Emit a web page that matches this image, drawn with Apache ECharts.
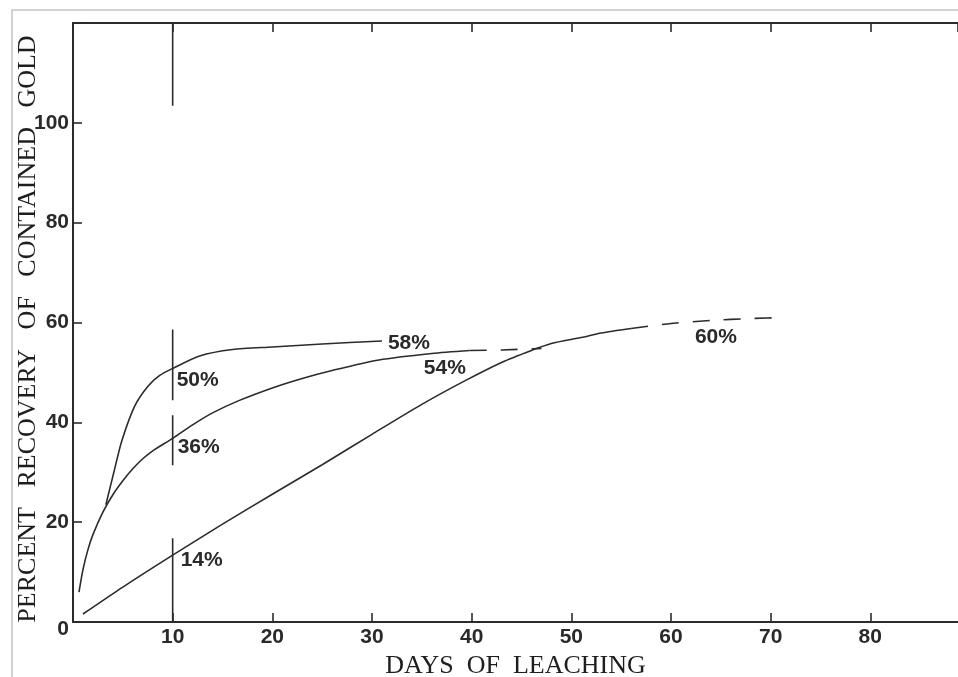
<!DOCTYPE html>
<html>
<head>
<meta charset="utf-8">
<script src="https://cdn.jsdelivr.net/npm/echarts@6/dist/echarts.min.js"></script>
<style>
  html, body { margin: 0; padding: 0; background: #fff; }
  #chart { width: 958px; height: 677px; }
</style>
</head>
<body>
<div id="chart"></div>
<script>
// curve: [day, percent]
var fastCurve = [[3.3, 23.5], [4.1, 30], [4.9, 36.3], [6.2, 43.3], [7.5, 47.2], [8.7, 49.4], [10, 50.8],
  [12.7, 53.3], [16, 54.6], [20, 55.1], [25, 55.7], [31, 56.3]]
var midCurve = [[0.6, 6], [1, 10.5], [1.5, 14.5], [2, 17.5], [3, 22], [4, 25.5], [5, 28.3], [6, 30.7],
  [7, 32.7], [8, 34.3], [10, 36.8], [12, 39.5], [14, 41.9], [16.7, 44.4], [20, 46.9], [23, 48.8],
  [26, 50.4], [30.7, 52.5], [36, 53.8], [39.8, 54.4]]
var midDashed = [[39.8, 54.4], [43, 54.5], [47, 54.8]]
var slowCurve = [[1, 1.6], [5, 7], [10, 13.4], [15, 19.6], [20, 25.6], [25, 31.5], [30, 37.6],
  [35, 43.6], [39.4, 48.4], [43, 52], [46, 54.4], [48, 55.8], [51, 57], [53, 57.9], [56, 58.8]]
var slowDashed = [[56, 58.8], [60, 59.8], [64, 60.4], [68, 60.8], [71.5, 61]]
// vertical marker at day 10, broken where the labels sit
var day10Segments = [[103.4, 120], [44.4, 58.6], [31.4, 41.4], [0, 16.8]]
var labelDays = [10.4, 10.5, 10.8, 31.6, 35.2, 62.4]
var labelVals = [48.4, 35, 12.4, 55.8, 50.8, 57]
var labelTexts = ['50%', '36%', '14%', '58%', '54%', '60%']

var ink = '#2b2b2b'
var txt = '#2a2a2a'
var chart = echarts.init(document.getElementById('chart'))

function curve(data, dashed) {
  return {
    type: 'line',
    data: data,
    smooth: 0.25,
    symbol: 'none',
    silent: true,
    lineStyle: { color: ink, width: 1.6, type: dashed ? [17, 14] : 'solid' }
  }
}

var series = [
  curve(fastCurve), curve(midCurve), curve(midDashed, true),
  curve(slowCurve), curve(slowDashed, true)
]
day10Segments.forEach(function(s) {
  series.push({
    type: 'line',
    data: [[10, s[0]], [10, s[1]]],
    symbol: 'none',
    silent: true,
    lineStyle: { color: ink, width: 1.6 }
  })
})
series.push({
  type: 'scatter',
  symbolSize: 0,
  silent: true,
  itemStyle: { opacity: 1 },
  data: labelTexts.map(function(t, i) {
    return { name: t, value: [labelDays[i], labelVals[i]] }
  }),
  label: {
    show: true,
    position: 'right',
    distance: 0,
    formatter: '{b}',
    color: txt,
    opacity: 1,
    fontFamily: 'Liberation Sans',
    fontWeight: 'bold',
    fontSize: 21
  }
})

chart.setOption({
  animation: false,
  backgroundColor: '#fff',
  graphic: [{
    type: 'polyline',
    shape: { points: [[12, 677], [12, 10], [958, 10]] },
    style: { stroke: '#c4c4c4', lineWidth: 1.5, fill: null },
    silent: true
  }],
  grid: { left: 73, right: 0, top: 23, bottom: 55, outerBoundsMode: 'none', containLabel: false },
  xAxis: [{
    type: 'value',
    min: 0,
    max: 88.8,
    interval: 10,
    name: 'DAYS  OF  LEACHING',
    nameLocation: 'middle',
    nameGap: 31,
    nameTextStyle: { fontFamily: 'Liberation Serif', fontSize: 26, color: '#1e1e1e' },
    axisLine: { lineStyle: { color: ink, width: 2 } },
    axisTick: { inside: true, length: 9, lineStyle: { color: ink, width: 1.6 } },
    axisLabel: {
      margin: 5,
      color: txt,
      fontFamily: 'Liberation Sans',
      fontWeight: 'bold',
      fontSize: 21,
      showMaxLabel: false,
      formatter: function(v) { return (v === 0 || v % 10 !== 0) ? '' : v }
    },
    splitLine: { show: false }
  }, {
    type: 'value',
    position: 'top',
    min: 0,
    max: 88.8,
    interval: 10,
    axisLine: { show: true, lineStyle: { color: ink, width: 2 } },
    axisTick: { inside: true, length: 9, lineStyle: { color: ink, width: 1.6 } },
    axisLabel: { show: false },
    splitLine: { show: false }
  }],
  yAxis: {
    type: 'value',
    min: 0,
    max: 120,
    interval: 20,
    name: 'PERCENT   RECOVERY   OF   CONTAINED   GOLD',
    nameLocation: 'middle',
    nameGap: 32,
    nameMoveOverlap: false,
    nameTextStyle: {
      fontFamily: 'Liberation Serif', fontSize: 26, color: '#1e1e1e',
      padding: [0, 13, 0, 0]
    },
    axisLine: { show: true, lineStyle: { color: ink, width: 2 } },
    axisTick: { inside: true, length: 9, lineStyle: { color: ink, width: 1.6 } },
    axisLabel: {
      margin: 4,
      color: txt,
      fontFamily: 'Liberation Sans',
      fontWeight: 'bold',
      fontSize: 21,
      formatter: function(v) {
        if (v === 120) return ''
        if (v === 0) return '{z|0}'
        return v
      },
      rich: { z: { padding: [15, 0, 0, 0], fontFamily: 'Liberation Sans', fontWeight: 'bold', fontSize: 21, color: txt } }
    },
    splitLine: { show: false }
  },
  series: series
})
</script>
</body>
</html>
